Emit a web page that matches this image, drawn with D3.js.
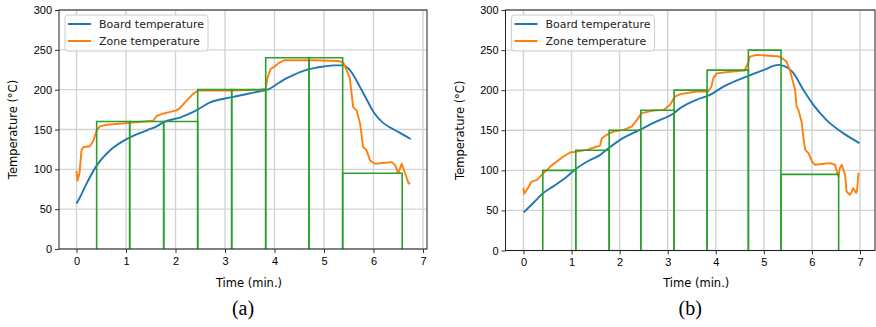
<!DOCTYPE html>
<meta charset="utf-8">
<script src="https://cdn.jsdelivr.net/npm/d3@7"></script>
<style>
  body { margin: 0; background: #fff; }
  svg { display: block; font-family: "DejaVu Sans", sans-serif; }
  .tick text { font-size: 11px; fill: #000; }
  .caption { font-family: "Liberation Serif", "DejaVu Serif", serif; font-size: 20px; }
</style>
<body>
<div id="viz"></div>
<script>
// ---- data ----
const yTicks = [0, 50, 100, 150, 200, 250, 300];
const xTicks = [0, 1, 2, 3, 4, 5, 6, 7];
const seriesNames = ["Board temperature", "Zone temperature"];

// panel (a)
const timeBoardA = [0, 0.07, 0.17, 0.41, 0.68, 1.01, 1.42, 1.62, 1.75, 2.09, 2.36, 2.7, 3.17, 3.71, 3.82, 3.9, 4.0, 4.2, 4.4, 4.6, 4.8, 5.0, 5.2, 5.39, 5.53, 5.73, 5.86, 6.0, 6.2, 6.35, 6.5, 6.75];
const boardA =     [57, 65, 78, 105, 124, 138, 149, 154, 159, 165, 172, 184, 191, 198, 199.5, 201, 205, 213, 219, 224, 227, 229, 230.5, 230.5, 224, 203, 188, 172, 158, 152, 147, 138];
const timeZoneA = [0, 0.02, 0.06, 0.1, 0.14, 0.27, 0.34, 0.41, 0.47, 0.61, 1.01, 1.55, 1.62, 1.75, 2.02, 2.09, 2.22, 2.36, 2.46, 3.17, 3.71, 3.82, 3.86, 3.92, 4.0, 4.1, 4.2, 4.8, 5.3, 5.39, 5.52, 5.59, 5.66, 5.73, 5.79, 5.86, 5.93, 6.03, 6.37, 6.44, 6.5, 6.57, 6.64, 6.71, 6.74];
const zoneA =     [98, 86, 95, 124, 128, 129, 136, 149, 154, 156, 158, 161, 167, 170, 174, 177, 186, 195, 199, 199, 200, 201, 215, 226, 229, 234, 237, 237, 236, 234, 215, 178, 174, 157, 128, 124, 111, 107, 109, 105, 95, 107, 95, 82, 83];
const zoneEdgesA = [0.407, 1.074, 1.761, 2.448, 3.135, 3.822, 4.697, 5.377, 6.58];
const zoneSetA = [160, 160, 160, 200, 200, 240, 240, 95];

// panel (b)
const timeBoardB = [0, 0.2, 0.41, 0.62, 0.9, 1.11, 1.39, 1.59, 1.73, 2.01, 2.42, 2.77, 3.12, 3.26, 3.6, 3.88, 4.16, 4.64, 4.99, 5.3, 5.41, 5.62, 5.82, 6.03, 6.3, 6.65, 6.99];
const boardB =     [47.5, 59, 71.6, 80, 92, 102.7, 113, 119, 125.6, 138, 150.5, 161, 171, 177.6, 188, 194, 204.5, 217, 225, 231.5, 230.3, 221, 200.4, 181.7, 163, 146.4, 134];
const timeZoneB = [0, 0.014, 0.07, 0.17, 0.28, 0.38, 0.49, 0.56, 0.69, 0.83, 0.97, 1.11, 1.32, 1.53, 1.59, 1.63, 1.73, 1.87, 2.08, 2.25, 2.36, 2.46, 2.7, 2.91, 3.05, 3.15, 3.26, 3.6, 3.84, 3.91, 3.95, 4.02, 4.29, 4.6, 4.68, 4.71, 4.85, 5.33, 5.47, 5.54, 5.65, 5.68, 5.72, 5.79, 5.82, 5.86, 5.93, 6.0, 6.06, 6.37, 6.48, 6.55, 6.58, 6.62, 6.69, 6.72, 6.79, 6.83, 6.86, 6.92, 6.94, 6.97];
const zoneB =     [78, 70.7, 75.7, 86, 88, 94.4, 100.6, 104.7, 111, 117.2, 122.2, 123.4, 125.6, 129.7, 130.5, 140, 144.3, 148.4, 150.5, 154.6, 163, 171.3, 174.6, 175.4, 181.7, 192, 195, 198.3, 198.3, 204.5, 215, 221, 223, 224.5, 235.7, 241.9, 244, 242, 235.7, 225.3, 200.4, 179.6, 175.4, 159, 142, 125.6, 121.4, 111, 107, 109, 107, 92.3, 102.7, 107, 94.4, 73.6, 69.5, 73.6, 77.8, 71.6, 75.7, 97];
const zoneEdgesB = [0.402, 1.088, 1.782, 2.44, 3.133, 3.819, 4.678, 5.357, 6.556];
const zoneSetB = [100, 125, 150, 175, 200, 225, 250, 95];

const W = 876, H = 327;
const svg = d3.select("#viz").append("svg").attr("width", W).attr("height", H);

function panel(p) {
  const x = d3.scaleLinear().domain(p.xDomain).range([p.left, p.right]);
  const y = d3.scaleLinear().domain([0, 300]).range([p.bottom, p.top]);
  const g = svg.append("g");

  // grid
  g.selectAll(".gx").data(xTicks).enter().append("line")
    .attr("x1", d => x(d)).attr("x2", d => x(d))
    .attr("y1", p.top).attr("y2", p.bottom)
    .attr("stroke", "#d3d3d3").attr("stroke-width", 1.4);
  g.selectAll(".gy").data(yTicks).enter().append("line")
    .attr("x1", p.left).attr("x2", p.right)
    .attr("y1", d => y(d)).attr("y2", d => y(d))
    .attr("stroke", "#d3d3d3").attr("stroke-width", 1.4);

  const smooth = d3.line().x(d => x(d[0])).y(d => y(d[1])).curve(d3.curveMonotoneX);
  const line = d3.line().x(d => x(d[0])).y(d => y(d[1]));
  const board = p.tBoard.map((t, i) => [t, p.board[i]]);
  const zone = p.tZone.map((t, i) => [t, p.zone[i]]);

  g.append("path").attr("d", smooth(board)).attr("fill", "none")
    .attr("stroke", "#1f77b4").attr("stroke-width", 1.9).attr("stroke-linejoin", "round");
  g.append("path").attr("d", line(zone)).attr("fill", "none")
    .attr("stroke", "#ff7f0e").attr("stroke-width", 1.9).attr("stroke-linejoin", "round");

  // zone set-points drawn as open boxes
  g.selectAll(".zone").data(p.set).enter().append("path")
    .attr("d", (d, i) => `M${x(p.edges[i])},${y(0)}V${y(d)}H${x(p.edges[i + 1])}V${y(0)}`)
    .attr("fill", "none").attr("stroke", "#2ca02c").attr("stroke-width", 1.6);

  // axes
  g.append("g").attr("transform", `translate(0,${p.bottom})`)
    .call(d3.axisBottom(x).tickValues(xTicks).tickSize(4).tickPadding(4).tickFormat(d3.format("d")))
    .call(a => a.select(".domain").remove());
  g.append("g").attr("transform", `translate(${p.left},0)`)
    .call(d3.axisLeft(y).tickValues(yTicks).tickSize(4).tickPadding(3))
    .call(a => a.select(".domain").remove());
  g.selectAll(".tick line").attr("stroke", "#333");

  g.append("rect").attr("x", p.left).attr("y", p.top)
    .attr("width", p.right - p.left).attr("height", p.bottom - p.top)
    .attr("fill", "none").attr("stroke", "#222").attr("stroke-width", 1);

  // legend
  const lg = g.append("g").attr("transform", `translate(${p.left + 6},${p.top + 5})`);
  lg.append("rect").attr("width", 143).attr("height", 36).attr("rx", 3)
    .attr("fill", "#fff").attr("fill-opacity", 0.85).attr("stroke", "#ccc");
  seriesNames.forEach((n, i) => {
    lg.append("line").attr("x1", 3).attr("x2", 26).attr("y1", 9 + i * 17).attr("y2", 9 + i * 17)
      .attr("stroke", i ? "#ff7f0e" : "#1f77b4").attr("stroke-width", 2);
    lg.append("text").attr("x", 34).attr("y", 13 + i * 17).attr("font-size", 11).attr("fill", "#222").text(n);
  });

  // labels
  const cx = (p.left + p.right) / 2;
  g.append("text").attr("x", cx + 6).attr("y", 287).attr("text-anchor", "middle")
    .attr("font-size", 11.5).attr("fill", "#000").text("Time (min.)");
  g.append("text").attr("transform", `translate(${p.left - 42},${(p.top + p.bottom) / 2}) rotate(-90)`)
    .attr("text-anchor", "middle").attr("font-size", 11.5).attr("fill", "#000").text("Temperature (°C)");
  g.append("text").attr("class", "caption").attr("x", cx).attr("y", 315)
    .attr("text-anchor", "middle").text(p.caption);
}

panel({ left: 59, right: 427, top: 10, bottom: 249, xDomain: [-0.354, 7.081],
  tBoard: timeBoardA, board: boardA, tZone: timeZoneA, zone: zoneA,
  edges: zoneEdgesA, set: zoneSetA, caption: "(a)" });
panel({ left: 505.5, right: 875, top: 10, bottom: 250.5, xDomain: [-0.374, 7.312],
  tBoard: timeBoardB, board: boardB, tZone: timeZoneB, zone: zoneB,
  edges: zoneEdgesB, set: zoneSetB, caption: "(b)" });
</script>
</body>
